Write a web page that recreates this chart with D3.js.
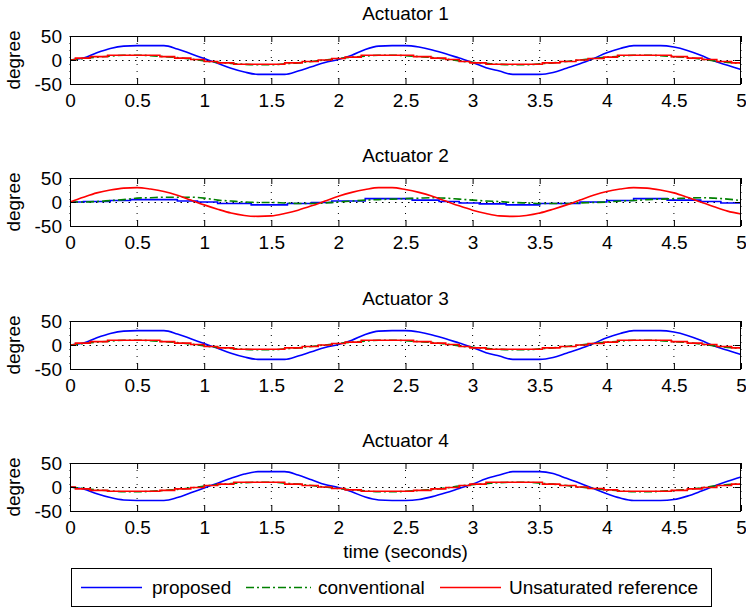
<!doctype html>
<html lang="en">
<head>
  <meta charset="UTF-8">
  <title>Actuator responses</title>
  <script src="https://cdn.jsdelivr.net/npm/d3@7"></script>
  <style>
    body { margin: 0; background: #fff; }
    text { font-family: Arial, "Liberation Sans", sans-serif; }
  </style>
</head>
<body>

<svg width="746" height="610" id="chart"></svg>

<script>
  // sample grid (seconds)
  var sampleTimes = [0, 0.1, 0.2, 0.3, 0.4, 0.5, 0.6, 0.7, 0.8, 0.9,
    1, 1.1, 1.2, 1.3, 1.4, 1.5, 1.6, 1.7, 1.8, 1.9,
    2, 2.1, 2.2, 2.3, 2.4, 2.5, 2.6, 2.7, 2.8, 2.9,
    3, 3.1, 3.2, 3.3, 3.4, 3.5, 3.6, 3.7, 3.8, 3.9,
    4, 4.1, 4.2, 4.3, 4.4, 4.5, 4.6, 4.7, 4.8, 4.9, 5];

  var titles = ['Actuator 1', 'Actuator 2', 'Actuator 3', 'Actuator 4'];
  var seriesNames = ['proposed', 'conventional', 'Unsaturated reference'];
  var xTicks = [0, 0.5, 1, 1.5, 2, 2.5, 3, 3.5, 4, 4.5, 5];
  var xTickLabels = ['0', '0.5', '1', '1.5', '2', '2.5', '3', '3.5', '4', '4.5', '5'];
  var yTicks = [-50, 0, 50];
  var yTickLabels = ['-50', '0', '50'];

  // Actuator 1
  var proposedAct1 = [0, 4, 15, 24, 29, 30, 30, 30, 23, 13,
    3, -7, -17, -25, -30, -30, -30, -23, -14, -5,
    1, 10, 22, 29, 30, 30, 27, 21, 13, 4,
    -5, -16, -23, -30, -30, -30, -26, -17, -8, 3,
    15, 24, 30, 30, 30, 27, 20, 10, -2, -11, -20];
  var conventionalAct1 = [0, 3, 6, 8, 10, 10, 9, 7, 5, 2,
    -2, -5, -7, -9, -10, -10, -8, -6, -3, 0,
    3, 6, 8, 10, 10, 9, 7, 5, 2, -2,
    -5, -7, -9, -10, -10, -8, -6, -3, 0, 3,
    6, 8, 10, 10, 9, 7, 5, 2, -2, -5, -7];
  var referenceAct1Time = [0, 0.04, 0.15, 0.28, 0.67, 0.78, 0.9, 1.0, 1.1, 1.22,
    1.6, 1.73, 1.85, 1.95, 2.05, 2.17, 2.56, 2.69, 2.8, 2.9,
    2.98, 3.1, 3.52, 3.65, 3.77, 3.86, 3.98, 4.08, 4.48, 4.6,
    4.71, 4.82, 4.93, 5];
  var referenceAct1 = [0, 4, 7, 10, 7, 4, 1, -3, -6, -9,
    -6, -3, 0, 3, 6, 10, 7, 4, 1, -3,
    -6, -9, -6, -3, 0, 3, 6, 10, 7, 4,
    1, -3, -6, -6];

  // Actuator 2
  var proposedAct2Time = [0, 0.1, 0.3, 0.45, 0.8, 0.95, 1.1, 1.35, 1.62, 1.8,
    1.95, 2.2, 2.55, 2.75, 2.9, 3.05, 3.25, 3.5, 3.8, 4.0,
    4.2, 4.45, 4.7, 4.85, 5];
  var proposedAct2 = [0, 1, 3, 5, 2, 0, -3, -6, -3, -1,
    2, 7, 4, 1, -2, -4, -6, -3, 0, 3,
    7, 4, 1, -2, -2];
  var conventionalAct2 = [0, 0, 1, 3, 5, 8, 9, 10, 10, 10,
    8, 4, 2, 0, -1, -1, -2, -3, -3, -2,
    0, 2, 4, 5, 6, 7, 8, 9, 8, 6,
    4, 2, 1, -1, -2, -3, -3, -3, -2, -1,
    0, 2, 3, 5, 6, 7, 8, 9, 8, 6, 3];
  var referenceAct2 = [0, 10, 19, 25, 29, 30, 27, 22, 14, 4,
    -6, -15, -23, -28, -30, -29, -24, -17, -8, 2,
    12, 20, 26, 30, 30, 26, 20, 12, 2, -8,
    -17, -24, -29, -30, -28, -23, -15, -6, 4, 14,
    22, 27, 30, 29, 25, 19, 10, 0, -10, -19, -25];

  // Actuator 3
  var proposedAct3 = [0, 4, 15, 24, 29, 30, 30, 30, 23, 13,
    3, -7, -17, -25, -30, -30, -30, -23, -14, -5,
    1, 10, 22, 29, 30, 30, 27, 21, 13, 4,
    -5, -16, -23, -30, -30, -30, -26, -17, -8, 3,
    15, 24, 30, 30, 30, 27, 20, 10, -2, -11, -20];
  var conventionalAct3 = [0, 3, 6, 8, 10, 10, 9, 7, 5, 2,
    -2, -5, -7, -9, -10, -10, -8, -6, -3, 0,
    3, 6, 8, 10, 10, 9, 7, 5, 2, -2,
    -5, -7, -9, -10, -10, -8, -6, -3, 0, 3,
    6, 8, 10, 10, 9, 7, 5, 2, -2, -5, -7];
  var referenceAct3Time = [0, 0.04, 0.15, 0.28, 0.67, 0.78, 0.9, 1.0, 1.1, 1.22,
    1.6, 1.73, 1.85, 1.95, 2.05, 2.17, 2.56, 2.69, 2.8, 2.9,
    2.98, 3.1, 3.52, 3.65, 3.77, 3.86, 3.98, 4.08, 4.48, 4.6,
    4.71, 4.82, 4.93, 5];
  var referenceAct3 = [0, 4, 7, 10, 7, 4, 1, -3, -6, -9,
    -6, -3, 0, 3, 6, 10, 7, 4, 1, -3,
    -6, -9, -6, -3, 0, 3, 6, 10, 7, 4,
    1, -3, -6, -6];

  // Actuator 4
  var proposedAct4 = [0, -4, -14, -22, -27, -28, -28, -28, -22, -12,
    -2, 8, 18, 27, 32, 32, 32, 25, 15, 5,
    -1, -10, -21, -27, -28, -28, -26, -20, -12, -3,
    6, 17, 25, 32, 32, 32, 28, 18, 8, -3,
    -14, -23, -28, -28, -28, -26, -19, -9, 2, 12, 21];
  var conventionalAct4 = [0, -3, -6, -8, -10, -10, -9, -7, -5, -2,
    2, 5, 7, 9, 10, 10, 8, 6, 3, 0,
    -3, -6, -8, -10, -10, -9, -7, -5, -2, 2,
    5, 7, 9, 10, 10, 8, 6, 3, 0, -3,
    -6, -8, -10, -10, -9, -7, -5, -2, 2, 5, 7];
  var referenceAct4Time = [0, 0.04, 0.15, 0.28, 0.67, 0.78, 0.9, 1.0, 1.1, 1.22,
    1.6, 1.73, 1.85, 1.95, 2.05, 2.17, 2.56, 2.69, 2.8, 2.9,
    2.98, 3.1, 3.52, 3.65, 3.77, 3.86, 3.98, 4.08, 4.48, 4.6,
    4.71, 4.82, 4.93, 5];
  var referenceAct4 = [0, -4, -7, -9, -7, -4, -1, 3, 6, 10,
    6, 3, 0, -3, -6, -9, -7, -4, -1, 3,
    6, 10, 6, 3, 0, -3, -6, -9, -7, -4,
    -1, 3, 6, 6];

  (function () {
    var svg = d3.select('#chart'),
      plotLeft = 70, plotRight = 741, plotHeight = 48,
      panelTops = [36, 178, 321, 463],
      fontSize = 19;

    var colors = ['#0000ff', '#008000', '#ff0000'],
      dashes = [null, '8,3,2,3', null];

    var x = d3.scaleLinear().domain([0, 5]).range([plotLeft, plotRight]);

    var smooth = d3.curveMonotoneX, step = d3.curveStepAfter;

    // each panel: series in draw order (proposed, conventional, reference)
    var panels = [
      [[sampleTimes, proposedAct1, smooth], [sampleTimes, conventionalAct1, smooth], [referenceAct1Time, referenceAct1, step]],
      [[proposedAct2Time, proposedAct2, step], [sampleTimes, conventionalAct2, smooth], [sampleTimes, referenceAct2, smooth]],
      [[sampleTimes, proposedAct3, smooth], [sampleTimes, conventionalAct3, smooth], [referenceAct3Time, referenceAct3, step]],
      [[sampleTimes, proposedAct4, smooth], [sampleTimes, conventionalAct4, smooth], [referenceAct4Time, referenceAct4, step]]
    ];

    svg.append('rect').attr('width', 746).attr('height', 610).attr('fill', '#fff');

    panels.forEach(function (series, i) {
      var top = panelTops[i];
      var y = d3.scaleLinear().domain([-50, 50]).range([top + plotHeight, top]);
      var g = svg.append('g');

      g.append('rect')
        .attr('x', plotLeft).attr('y', top)
        .attr('width', plotRight - plotLeft).attr('height', plotHeight)
        .attr('fill', '#fff');

      // dotted grid
      g.selectAll('.vgrid').data(xTicks).enter().append('line')
        .attr('x1', function (d) { return x(d); })
        .attr('x2', function (d) { return x(d); })
        .attr('y1', top).attr('y2', top + plotHeight)
        .attr('stroke', '#000').attr('stroke-width', 1)
        .attr('stroke-dasharray', '1,6');
      g.selectAll('.hgrid').data(yTicks).enter().append('line')
        .attr('x1', plotLeft).attr('x2', plotRight)
        .attr('y1', function (d) { return Math.round(y(d)) + 0.5; })
        .attr('y2', function (d) { return Math.round(y(d)) + 0.5; })
        .attr('stroke', '#000').attr('stroke-width', 1)
        .attr('stroke-dasharray', '1.5,5');

      series.forEach(function (s, k) {
        var pts = s[0].map(function (t, j) { return [t, s[1][j]]; });
        var line = d3.line()
          .x(function (d) { return x(d[0]); })
          .y(function (d) { return y(d[1]); })
          .curve(s[2]);
        g.append('path')
          .attr('d', line(pts))
          .attr('fill', 'none')
          .attr('stroke', colors[k])
          .attr('stroke-width', 1.6)
          .attr('stroke-dasharray', dashes[k]);
      });

      // axes with inward ticks
      var bottom = g.append('g')
        .attr('transform', 'translate(0,' + (top + plotHeight) + ')')
        .call(d3.axisBottom(x).tickValues(xTicks).tickSize(-6).tickSizeOuter(0).tickPadding(10)
          .tickFormat(function (d, j) { return xTickLabels[j]; }));
      g.append('g')
        .attr('transform', 'translate(0,' + top + ')')
        .call(d3.axisTop(x).tickValues(xTicks).tickSize(-6).tickSizeOuter(0).tickFormat(''));
      var left = g.append('g')
        .attr('transform', 'translate(' + plotLeft + ',0)')
        .call(d3.axisLeft(y).tickValues(yTicks).tickSize(-6).tickSizeOuter(0).tickPadding(8)
          .tickFormat(function (d, j) { return yTickLabels[j]; }));
      g.append('g')
        .attr('transform', 'translate(' + plotRight + ',0)')
        .call(d3.axisRight(y).tickValues(yTicks).tickSize(-6).tickSizeOuter(0).tickFormat(''));

      g.selectAll('.domain').remove();
      g.selectAll('.tick line').attr('stroke', '#000');
      g.selectAll('.tick text')
        .attr('fill', '#000')
        .attr('font-size', fontSize)
        .attr('font-family', 'Arial, "Liberation Sans", sans-serif');

      g.append('rect')
        .attr('x', plotLeft + 0.5).attr('y', top + 0.5)
        .attr('width', plotRight - plotLeft - 1).attr('height', plotHeight)
        .attr('fill', 'none').attr('stroke', '#000').attr('stroke-width', 1);

      g.append('text')
        .attr('x', (plotLeft + plotRight) / 2)
        .attr('y', top - 16)
        .attr('text-anchor', 'middle')
        .attr('font-size', fontSize)
        .text(titles[i]);

      g.append('text')
        .attr('transform', 'translate(20,' + (top + plotHeight / 2) + ') rotate(-90)')
        .attr('text-anchor', 'middle')
        .attr('font-size', fontSize)
        .text('degree');
    });

    svg.append('text')
      .attr('x', (plotLeft + plotRight) / 2)
      .attr('y', 558)
      .attr('text-anchor', 'middle')
      .attr('font-size', fontSize)
      .text('time (seconds)');

    // legend
    var legend = svg.append('g');
    legend.append('rect')
      .attr('x', 71.5).attr('y', 568.5)
      .attr('width', 640).attr('height', 38)
      .attr('fill', '#fff').attr('stroke', '#000').attr('stroke-width', 1);
    var itemX = [[81, 142, 152], [246, 311, 318], [440, 501, 509]];
    seriesNames.forEach(function (name, k) {
      legend.append('line')
        .attr('x1', itemX[k][0]).attr('x2', itemX[k][1])
        .attr('y1', 587.5).attr('y2', 587.5)
        .attr('stroke', colors[k]).attr('stroke-width', 1.6)
        .attr('stroke-dasharray', dashes[k]);
      legend.append('text')
        .attr('x', itemX[k][2]).attr('y', 594)
        .attr('font-size', fontSize)
        .text(name);
    });
  })();
</script>

</body>
</html>
